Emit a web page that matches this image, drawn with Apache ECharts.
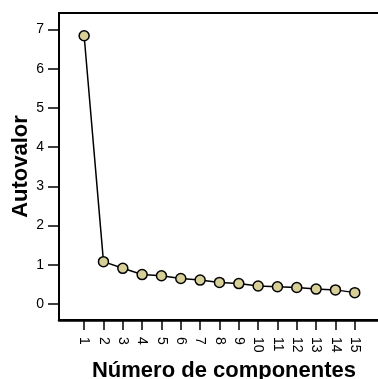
<!DOCTYPE html>
<html>
<head>
<meta charset="utf-8">
<script src="https://cdn.jsdelivr.net/npm/echarts@6/dist/echarts.min.js"></script>
<style>html,body{margin:0;padding:0;background:#fff;}#c{width:378px;height:379px;}</style>
</head>
<body>
<div id="c"></div>
<script>
const components = [1,2,3,4,5,6,7,8,9,10,11,12,13,14,15];
const eigenvalues = [6.84,1.08,0.91,0.75,0.72,0.65,0.61,0.55,0.52,0.46,0.44,0.42,0.38,0.36,0.29];
const yTicks = [0,1,2,3,4,5,6,7];
const xTicks = [1,2,3,4,5,6,7,8,9,10,11,12,13,14,15];

const chart = echarts.init(document.getElementById('c'), null, {renderer:'canvas'});
const font = 'Liberation Sans, Arial, Helvetica, sans-serif';
chart.setOption({
  animation:false,
  backgroundColor:'#fff',
  grid:{left:59, width:330, top:13, height:307, outerBoundsMode:'none', containLabel:false,
        show:true, borderColor:'#000', borderWidth:2, backgroundColor:'transparent'},
  xAxis:{
    type:'value', min:-0.3, max:16.77,
    name:'Número de componentes', nameLocation:'middle', nameGap:40, nameMoveOverlap:false,
    nameTextStyle:{fontFamily:font, fontSize:22, fontWeight:'bold', color:'#000'},
    axisLine:{show:true, onZero:false, lineStyle:{color:'#000', width:2.5}},
    axisTick:{show:true, customValues:xTicks, length:10, lineStyle:{color:'#000', width:1.5}},
    axisLabel:{customValues:xTicks, rotate:-90, margin:17, fontFamily:font, fontSize:14, color:'#000'},
    splitLine:{show:false}
  },
  yAxis:{
    type:'value', min:-0.408, max:7.42,
    name:'Autovalor', nameLocation:'middle', nameGap:27, nameRotate:90, nameMoveOverlap:false,
    nameTextStyle:{fontFamily:font, fontSize:22, fontWeight:'bold', color:'#000'},
    axisLine:{show:true, onZero:false, lineStyle:{color:'#000', width:2}},
    axisTick:{show:true, customValues:yTicks, length:11, lineStyle:{color:'#000', width:1.5}},
    axisLabel:{customValues:yTicks, margin:15, fontFamily:font, fontSize:14, color:'#000'},
    splitLine:{show:false}
  },
  series:[{
    type:'line',
    data: components.map((c,i)=>[c, eigenvalues[i]]),
    symbol:'circle', symbolSize:10,
    lineStyle:{color:'#000', width:1.5},
    itemStyle:{color:'#d6cf98', borderColor:'#000', borderWidth:1.5},
    z:3
  }]
});
</script>
</body>
</html>
